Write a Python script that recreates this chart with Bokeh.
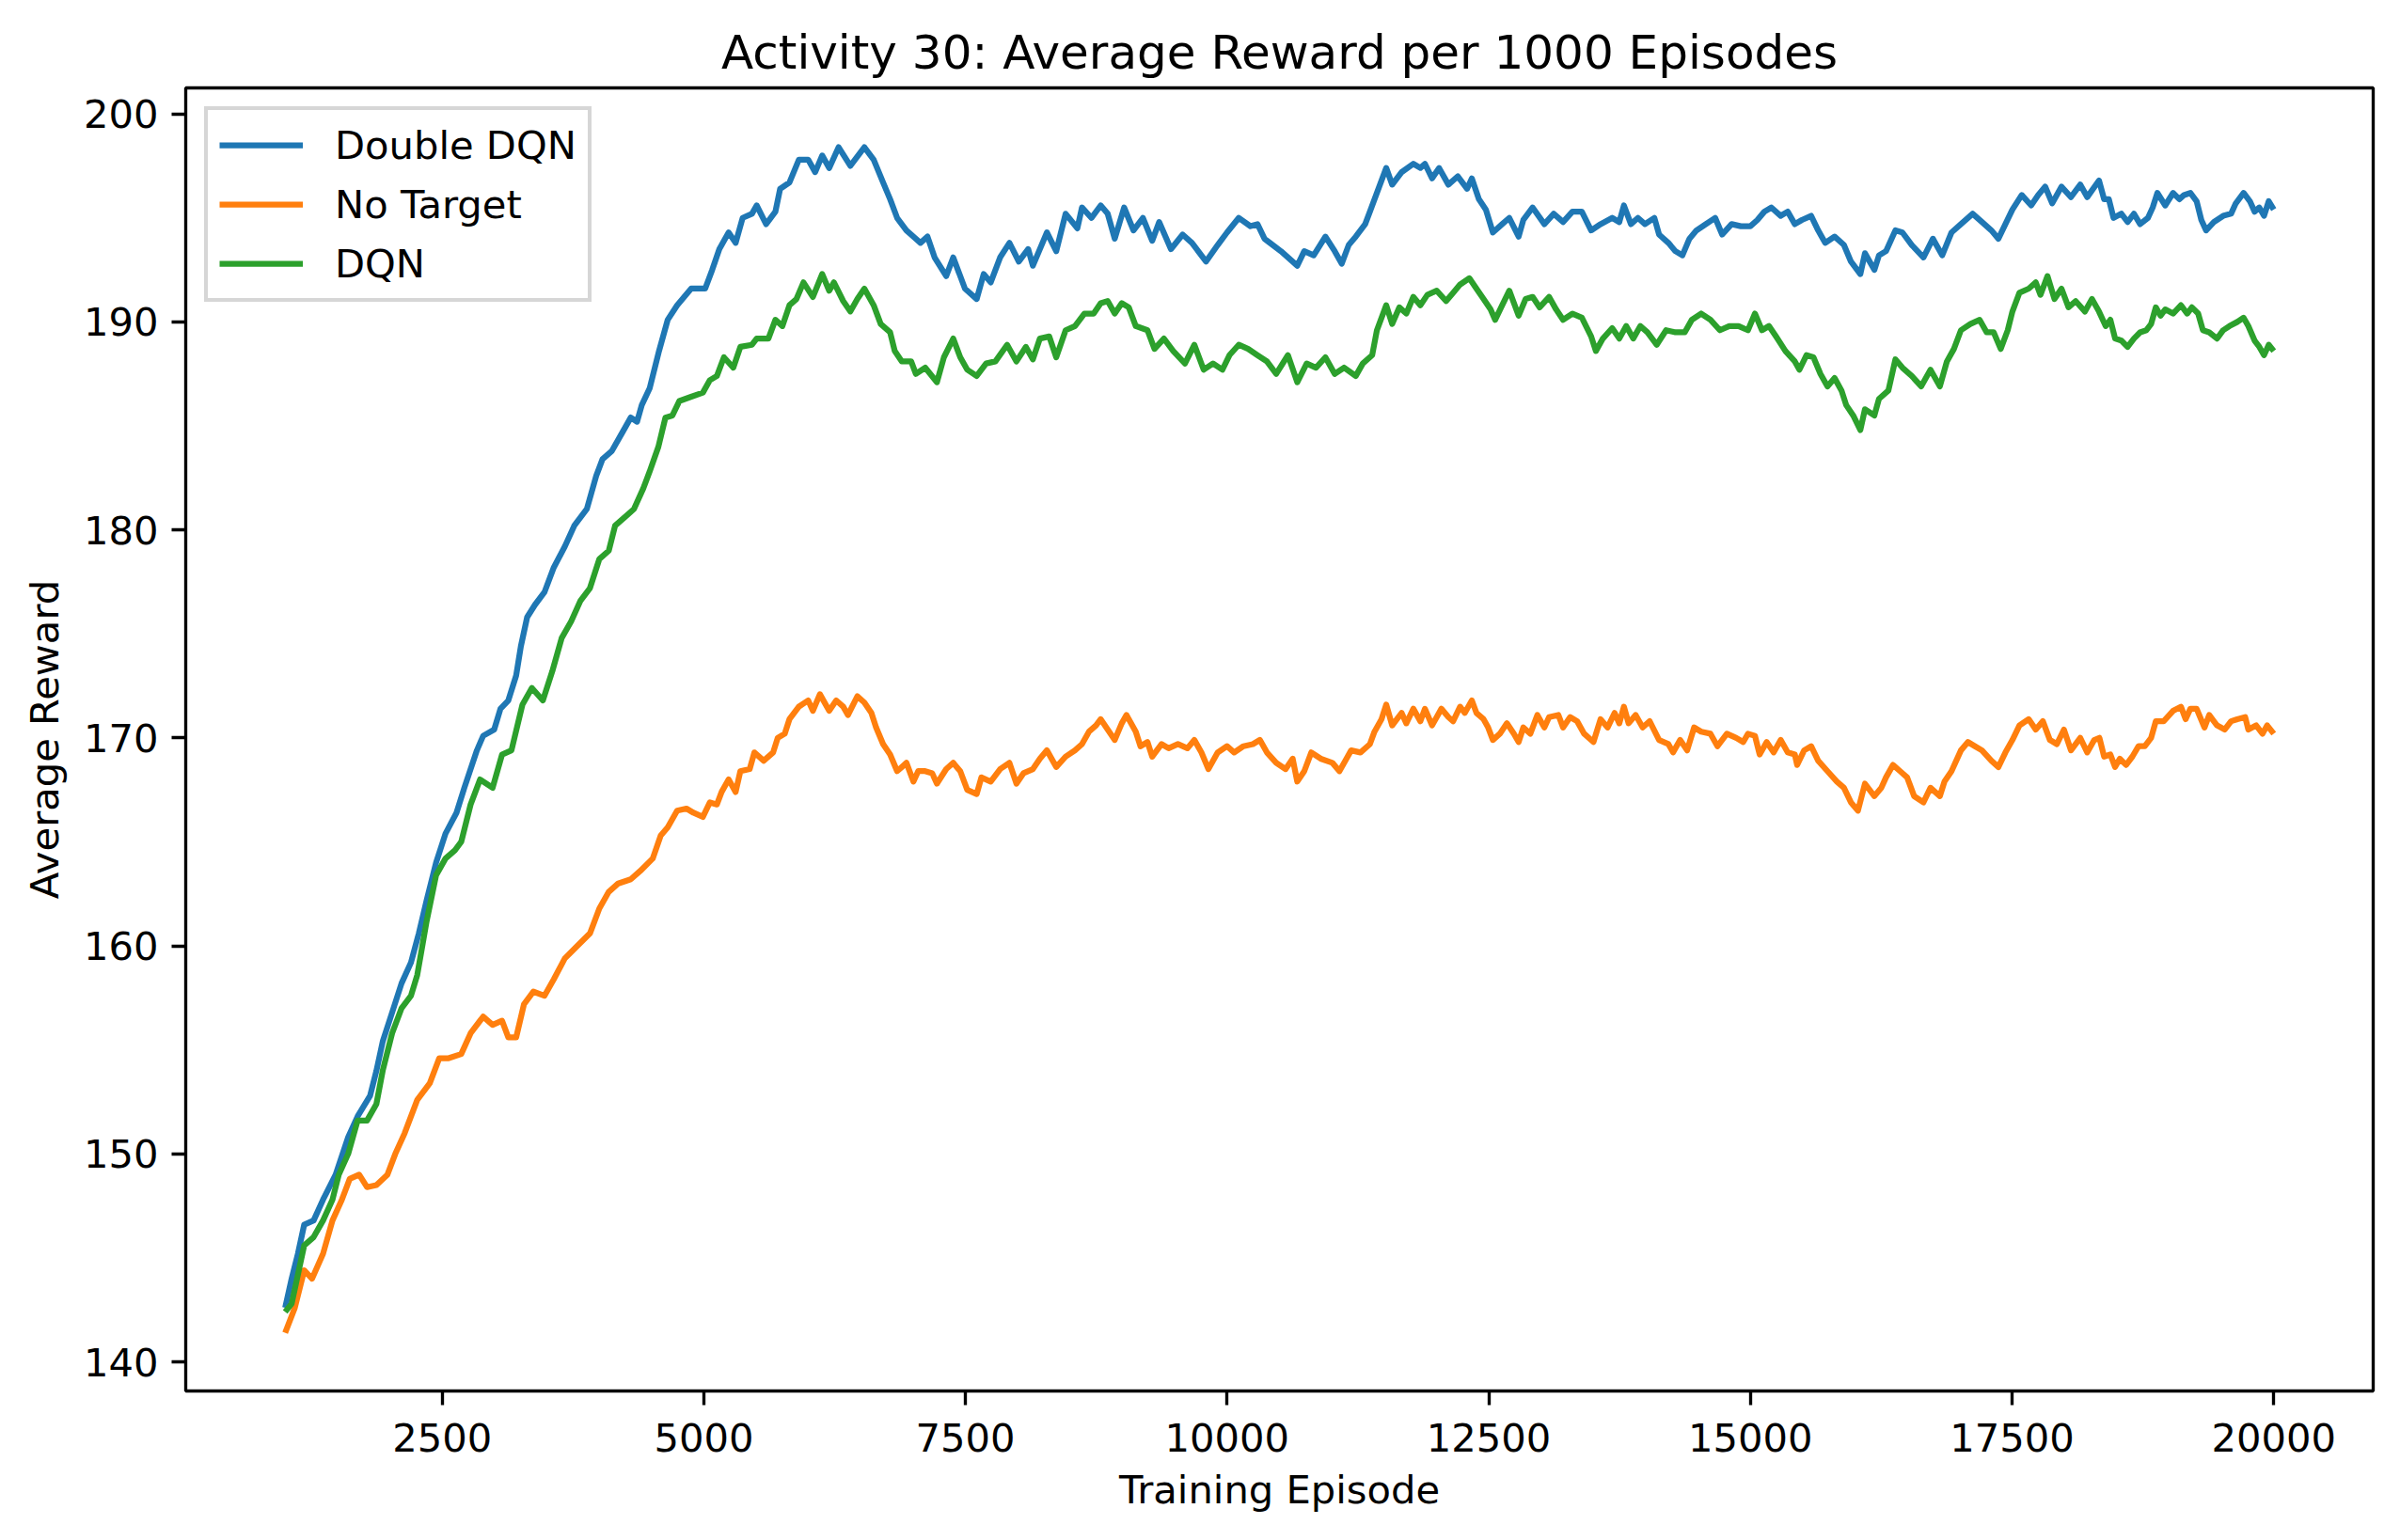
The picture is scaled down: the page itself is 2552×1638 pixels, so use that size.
from bokeh.plotting import figure
from bokeh.models import FixedTicker, Range1d, Legend, LegendItem
from bokeh.embed import file_html
from bokeh.resources import INLINE

TITLE = "Activity 30: Average Reward per 1000 Episodes"
X_LABEL = "Training Episode"
Y_LABEL = "Average Reward"
X_TICKS = [2500, 5000, 7500, 10000, 12500, 15000, 17500, 20000]
Y_TICKS = [140, 150, 160, 170, 180, 190, 200]

# Double DQN
dd_ep = [1000, 1062, 1122, 1182, 1272, 1362, 1482, 1602, 1692, 1812, 1872, 1932, 2022, 2112, 2202, 2277,
         2352, 2442, 2532, 2637, 2712, 2832, 2892, 2997, 3057, 3132, 3207, 3252, 3312, 3387, 3477, 3567,
         3672, 3762, 3882, 3972, 4032, 4122, 4212, 4302, 4362, 4407, 4482, 4572, 4655, 4745, 4879, 5013,
         5080, 5148, 5237, 5304, 5371, 5460, 5505, 5595, 5684, 5729, 5818, 5908, 5997, 6064, 6131, 6198,
         6288, 6400, 6534, 6623, 6713, 6780, 6847, 6936, 7070, 7137, 7205, 7316, 7383, 7495, 7607, 7674,
         7741, 7831, 7920, 8010, 8099, 8144, 8278, 8367, 8457, 8569, 8613, 8703, 8792, 8859, 8926, 9016,
         9105, 9195, 9284, 9351, 9463, 9575, 9664, 9798, 9910, 9999, 10111, 10223, 10290, 10357, 10514,
         10670, 10737, 10827, 10939, 11028, 11095, 11162, 11229, 11319, 11364, 11431, 11520, 11577, 11667,
         11779, 11846, 11890, 11958, 12025, 12114, 12204, 12293, 12338, 12405, 12472, 12539, 12628, 12696,
         12785, 12830, 12919, 13031, 13120, 13210, 13299, 13389, 13478, 13568, 13679, 13747, 13791, 13858,
         13925, 13992, 14082, 14127, 14216, 14283, 14350, 14417, 14484, 14574, 14663, 14730, 14820, 14909,
         14999, 15066, 15133, 15200, 15289, 15356, 15424, 15491, 15580, 15647, 15714, 15804, 15893, 15960,
         16050, 16094, 16184, 16228, 16295, 16385, 16452, 16541, 16653, 16743, 16832, 16921, 17011, 17123,
         17212, 17302, 17369, 17436, 17503, 17592, 17682, 17749, 17816, 17883, 17972, 18062, 18151, 18218,
         18330, 18379, 18424, 18469, 18544, 18604, 18664, 18723, 18798, 18843, 18888, 18963, 19038, 19098,
         19143, 19203, 19263, 19308, 19353, 19428, 19517, 19592, 19637, 19712, 19772, 19817, 19862, 19907,
         19952, 20000]
dd_val = [142.6, 144.0, 145.2, 146.6, 146.8, 147.8, 149.0, 150.8, 151.8, 152.8, 154.0, 155.4, 156.8, 158.2,
          159.2, 160.6, 162.2, 164.0, 165.4, 166.4, 167.6, 169.4, 170.1, 170.4, 171.4, 171.8, 173.0, 174.4,
          175.8, 176.4, 177.0, 178.2, 179.2, 180.2, 181.0, 182.6, 183.4, 183.8, 184.6, 185.4, 185.2, 186.0,
          186.8, 188.6, 190.1, 190.8, 191.6, 191.6, 192.5, 193.5, 194.3, 193.8, 195.0, 195.2, 195.6, 194.7,
          195.3, 196.4, 196.7, 197.8, 197.8, 197.2, 198.0, 197.4, 198.4, 197.5, 198.4, 197.8, 196.7, 195.9,
          195.0, 194.4, 193.8, 194.1, 193.1, 192.2, 193.1, 191.6, 191.1, 192.3, 191.9, 193.1, 193.8, 192.9,
          193.5, 192.7, 194.3, 193.4, 195.2, 194.5, 195.5, 195.0, 195.6, 195.2, 194.0, 195.5, 194.4, 195.0,
          193.9, 194.8, 193.5, 194.2, 193.8, 192.9, 193.7, 194.3, 195.0, 194.6, 194.7, 194.0, 193.4, 192.7,
          193.4, 193.2, 194.1, 193.4, 192.8, 193.7, 194.1, 194.7, 195.3, 196.2, 197.4, 196.6, 197.2, 197.6,
          197.4, 197.6, 196.9, 197.4, 196.6, 197.0, 196.4, 196.9, 195.9, 195.4, 194.3, 194.7, 195.0, 194.1,
          194.9, 195.5, 194.7, 195.2, 194.8, 195.3, 195.3, 194.4, 194.7, 195.0, 194.8, 195.6, 194.7, 195.0,
          194.7, 195.0, 194.2, 193.8, 193.4, 193.2, 194.0, 194.4, 194.7, 195.0, 194.2, 194.7, 194.6, 194.6,
          194.9, 195.3, 195.5, 195.1, 195.3, 194.7, 194.9, 195.1, 194.4, 193.8, 194.1, 193.7, 192.9, 192.3,
          193.3, 192.5, 193.2, 193.4, 194.4, 194.3, 193.7, 193.1, 194.0, 193.2, 194.3, 194.7, 195.2, 194.8,
          194.4, 194.0, 194.7, 195.4, 196.1, 195.6, 196.1, 196.5, 195.7, 196.5, 196.0, 196.6, 196.0, 196.8,
          195.9, 195.9, 195.0, 195.2, 194.8, 195.2, 194.7, 195.0, 195.5, 196.2, 195.6, 196.2, 195.9, 196.1,
          196.2, 195.8, 194.9, 194.4, 194.8, 195.1, 195.2, 195.7, 196.2, 195.8, 195.3, 195.5, 195.1, 195.8,
          195.4]

# No Target
nt_ep = [1000, 1092, 1182, 1257, 1362, 1452, 1542, 1617, 1707, 1782, 1872, 1977, 2052, 2142, 2262, 2382,
         2472, 2562, 2682, 2772, 2892, 2982, 3072, 3132, 3207, 3282, 3372, 3477, 3567, 3672, 3792, 3912,
         4002, 4092, 4182, 4302, 4392, 4512, 4588, 4655, 4745, 4834, 4901, 4991, 5058, 5125, 5170, 5237,
         5304, 5349, 5438, 5483, 5572, 5662, 5706, 5773, 5818, 5908, 5997, 6042, 6109, 6198, 6265, 6332,
         6377, 6467, 6534, 6601, 6646, 6713, 6780, 6847, 6892, 6936, 7003, 7048, 7115, 7182, 7227, 7316,
         7383, 7450, 7517, 7607, 7652, 7741, 7831, 7920, 7987, 8054, 8144, 8211, 8278, 8367, 8457, 8546,
         8613, 8680, 8747, 8792, 8859, 8926, 8993, 9038, 9127, 9172, 9239, 9284, 9374, 9441, 9530, 9620,
         9687, 9754, 9821, 9910, 9999, 10067, 10156, 10246, 10313, 10380, 10469, 10559, 10626, 10670, 10737,
         10804, 10894, 11006, 11073, 11140, 11185, 11274, 11364, 11408, 11475, 11520, 11577, 11667, 11712,
         11779, 11846, 11890, 11958, 12047, 12114, 12159, 12226, 12271, 12338, 12382, 12450, 12494, 12539,
         12606, 12673, 12740, 12785, 12830, 12897, 12964, 13031, 13076, 13165, 13210, 13277, 13344, 13411,
         13500, 13568, 13635, 13702, 13747, 13791, 13836, 13903, 13970, 14037, 14127, 14216, 14261, 14328,
         14395, 14462, 14529, 14618, 14685, 14775, 14864, 14931, 14976, 15043, 15088, 15155, 15222, 15289,
         15356, 15424, 15446, 15513, 15580, 15647, 15736, 15826, 15893, 15960, 16027, 16094, 16184, 16250,
         16295, 16362, 16430, 16497, 16564, 16653, 16720, 16810, 16854, 16921, 17011, 17078, 17145, 17212,
         17302, 17369, 17436, 17503, 17570, 17659, 17726, 17794, 17861, 17928, 17995, 18062, 18151, 18218,
         18285, 18334, 18379, 18439, 18484, 18529, 18589, 18649, 18708, 18768, 18828, 18873, 18948, 19038,
         19113, 19158, 19203, 19263, 19338, 19383, 19458, 19532, 19592, 19652, 19727, 19757, 19832, 19892,
         19937, 20000]
nt_val = [141.4, 142.6, 144.4, 144.0, 145.2, 146.8, 147.8, 148.8, 149.0, 148.4, 148.5, 149.0, 150.0, 151.0,
          152.6, 153.4, 154.6, 154.6, 154.8, 155.8, 156.6, 156.2, 156.4, 155.6, 155.6, 157.2, 157.8, 157.6,
          158.4, 159.4, 160.0, 160.6, 161.8, 162.6, 163.0, 163.2, 163.6, 164.2, 165.3, 165.7, 166.5, 166.6,
          166.4, 166.2, 166.9, 166.8, 167.4, 168.0, 167.4, 168.4, 168.5, 169.3, 168.9, 169.3, 170.0, 170.2,
          170.9, 171.5, 171.8, 171.3, 172.1, 171.3, 171.8, 171.5, 171.1, 172.0, 171.7, 171.2, 170.5, 169.7,
          169.2, 168.4, 168.6, 168.8, 167.9, 168.4, 168.4, 168.3, 167.8, 168.5, 168.8, 168.4, 167.5, 167.3,
          168.1, 167.9, 168.5, 168.8, 167.8, 168.3, 168.5, 169.0, 169.4, 168.6, 169.1, 169.4, 169.7, 170.3,
          170.6, 170.9, 170.4, 169.9, 170.7, 171.1, 170.3, 169.6, 169.8, 169.1, 169.7, 169.5, 169.7, 169.5,
          169.9, 169.3, 168.5, 169.3, 169.6, 169.3, 169.6, 169.7, 169.9, 169.3, 168.8, 168.5, 169.0, 167.9,
          168.4, 169.3, 169.0, 168.8, 168.4, 169.0, 169.4, 169.3, 169.7, 170.3, 170.9, 171.6, 170.6, 171.2,
          170.7, 171.4, 170.8, 171.4, 170.6, 171.4, 171.0, 170.8, 171.5, 171.2, 171.8, 171.2, 170.9, 170.5,
          169.9, 170.2, 170.7, 170.2, 169.8, 170.5, 170.2, 171.1, 170.5, 171.0, 171.1, 170.5, 171.0, 170.8,
          170.2, 169.8, 170.9, 170.5, 171.2, 170.7, 171.5, 170.7, 171.1, 170.5, 170.8, 169.9, 169.7, 169.3,
          169.9, 169.4, 170.5, 170.3, 170.2, 169.6, 170.2, 170.0, 169.8, 170.2, 170.1, 169.2, 169.8, 169.3,
          169.9, 169.3, 169.2, 168.7, 169.4, 169.6, 168.9, 168.4, 167.9, 167.6, 166.9, 166.5, 167.8, 167.2,
          167.6, 168.1, 168.7, 168.4, 168.1, 167.2, 166.9, 167.6, 167.2, 167.9, 168.4, 169.4, 169.8, 169.6,
          169.4, 168.9, 168.6, 169.3, 169.9, 170.6, 170.9, 170.4, 170.8, 169.9, 169.7, 170.4, 169.4, 170.0,
          169.3, 169.9, 170.0, 169.1, 169.2, 168.6, 169.0, 168.7, 169.1, 169.6, 169.6, 170.0, 170.8, 170.8,
          171.3, 171.5, 170.9, 171.4, 171.4, 170.5, 171.1, 170.6, 170.4, 170.8, 170.9, 171.0, 170.4, 170.6,
          170.2, 170.6, 170.2]

# DQN
dq_ep = [1000, 1062, 1122, 1182, 1272, 1362, 1452, 1512, 1602, 1692, 1782, 1872, 1932, 2022, 2112, 2202,
         2262, 2352, 2442, 2532, 2622, 2682, 2772, 2862, 2982, 3072, 3162, 3267, 3357, 3462, 3552, 3642,
         3732, 3822, 3912, 4002, 4092, 4152, 4242, 4332, 4422, 4482, 4566, 4633, 4700, 4767, 4879, 4991,
         5058, 5125, 5192, 5282, 5349, 5460, 5505, 5617, 5684, 5751, 5818, 5885, 5952, 6042, 6131, 6198,
         6243, 6332, 6400, 6467, 6534, 6623, 6690, 6780, 6824, 6892, 6981, 7026, 7115, 7227, 7294, 7383,
         7450, 7517, 7607, 7697, 7786, 7898, 7987, 8077, 8144, 8211, 8300, 8367, 8457, 8546, 8636, 8725,
         8792, 8859, 8926, 8993, 9060, 9127, 9239, 9306, 9396, 9485, 9597, 9687, 9776, 9865, 9955, 10022,
         10111, 10201, 10290, 10380, 10469, 10581, 10670, 10760, 10849, 10939, 11028, 11117, 11229, 11296,
         11386, 11431, 11520, 11577, 11645, 11712, 11779, 11846, 11913, 12002, 12092, 12159, 12226, 12315,
         12382, 12450, 12517, 12561, 12628, 12696, 12785, 12852, 12919, 12986, 13076, 13143, 13210, 13299,
         13389, 13478, 13523, 13590, 13679, 13747, 13813, 13880, 13948, 14015, 14104, 14194, 14283, 14372,
         14440, 14529, 14618, 14708, 14797, 14887, 14976, 15043, 15110, 15177, 15244, 15334, 15424, 15468,
         15535, 15602, 15669, 15736, 15804, 15870, 15915, 15982, 16050, 16094, 16184, 16228, 16318, 16385,
         16452, 16541, 16631, 16720, 16810, 16877, 16944, 17011, 17101, 17190, 17257, 17324, 17391, 17458,
         17503, 17570, 17659, 17726, 17771, 17838, 17905, 17972, 18039, 18107, 18196, 18263, 18330, 18394,
         18439, 18484, 18544, 18604, 18664, 18723, 18783, 18828, 18873, 18918, 18963, 19038, 19113, 19173,
         19218, 19278, 19323, 19383, 19458, 19517, 19577, 19652, 19712, 19757, 19817, 19862, 19907, 19952,
         20000]
dq_val = [142.4, 142.8, 144.2, 145.6, 146.0, 146.8, 147.8, 149.0, 150.0, 151.6, 151.6, 152.4, 154.0, 155.8,
          157.0, 157.6, 158.6, 161.2, 163.4, 164.2, 164.6, 165.0, 166.8, 168.0, 167.6, 169.2, 169.4, 171.6,
          172.4, 171.8, 173.2, 174.8, 175.6, 176.6, 177.2, 178.6, 179.0, 180.2, 180.6, 181.0, 182.0, 182.8,
          184.0, 185.4, 185.5, 186.2, 186.4, 186.6, 187.2, 187.4, 188.3, 187.8, 188.8, 188.9, 189.2, 189.2,
          190.1, 189.8, 190.8, 191.1, 191.9, 191.2, 192.3, 191.5, 191.9, 191.0, 190.5, 191.1, 191.6, 190.8,
          189.9, 189.5, 188.6, 188.1, 188.1, 187.5, 187.8, 187.1, 188.3, 189.2, 188.3, 187.7, 187.4, 188.0,
          188.1, 188.9, 188.1, 188.8, 188.2, 189.2, 189.3, 188.3, 189.6, 189.8, 190.4, 190.4, 190.9, 191.0,
          190.4, 190.9, 190.7, 189.8, 189.6, 188.7, 189.2, 188.6, 188.0, 188.9, 187.7, 188.0, 187.7, 188.4,
          188.9, 188.7, 188.4, 188.1, 187.5, 188.4, 187.1, 188.0, 187.8, 188.3, 187.5, 187.8, 187.4, 188.0,
          188.4, 189.6, 190.8, 189.9, 190.7, 190.4, 191.2, 190.8, 191.3, 191.5, 191.0, 191.4, 191.8, 192.1,
          191.6, 191.1, 190.6, 190.1, 190.8, 191.5, 190.3, 191.1, 191.2, 190.7, 191.2, 190.6, 190.1, 190.4,
          190.2, 189.3, 188.6, 189.2, 189.7, 189.2, 189.8, 189.2, 189.8, 189.5, 188.9, 189.6, 189.5, 189.5,
          190.1, 190.4, 190.1, 189.6, 189.8, 189.8, 189.6, 190.4, 189.6, 189.8, 189.3, 188.6, 188.1, 187.7,
          188.4, 188.3, 187.5, 186.9, 187.3, 186.7, 186.0, 185.5, 184.8, 185.8, 185.5, 186.3, 186.7, 188.2,
          187.8, 187.4, 186.9, 187.7, 186.9, 188.1, 188.7, 189.6, 189.9, 190.1, 189.5, 189.5, 188.7, 189.6,
          190.5, 191.4, 191.6, 191.9, 191.3, 192.2, 191.1, 191.6, 190.7, 191.0, 190.5, 191.1, 190.5, 189.8,
          190.1, 189.2, 189.1, 188.8, 189.2, 189.5, 189.6, 189.9, 190.7, 190.3, 190.6, 190.4, 190.8, 190.4,
          190.7, 190.4, 189.6, 189.5, 189.2, 189.6, 189.8, 190.0, 190.2, 189.8, 189.1, 188.8, 188.4, 188.9,
          188.6]

SERIES = [("Double DQN", dd_ep, dd_val, "#1f77b4"),
          ("No Target", nt_ep, nt_val, "#ff7f0e"),
          ("DQN", dq_ep, dq_val, "#2ca02c")]

FONT = "DejaVu Sans"
LW = 6.25      # 1.5pt at 300 dpi
SPINE = 3.33   # 0.8pt at 300 dpi

p = figure(width=2544, height=1630, output_backend="svg", toolbar_location=None,
           x_range=Range1d(50, 20950), y_range=Range1d(138.6, 201.25),
           min_border_left=197, min_border_right=21, min_border_top=93, min_border_bottom=151,
           title=TITLE)

p.title.text_font = FONT
p.title.text_font_size = "50px"
p.title.text_font_style = "normal"
p.title.text_color = "black"
p.title.align = "center"
p.title.standoff = 17

p.grid.visible = False
p.background_fill_color = "white"
p.border_fill_color = "white"
p.outline_line_color = "black"
p.outline_line_width = SPINE

for ax in (p.xaxis[0], p.yaxis[0]):
    ax.axis_line_color = None
    ax.major_tick_out = 15
    ax.major_tick_in = 0
    ax.major_tick_line_width = SPINE
    ax.major_tick_line_color = "black"
    ax.minor_tick_line_color = None
    ax.major_label_text_font = FONT
    ax.major_label_text_font_size = "41.67px"
    ax.major_label_text_color = "black"
    ax.major_label_standoff = 14
    ax.axis_label_text_font = FONT
    ax.axis_label_text_font_size = "41.67px"
    ax.axis_label_text_font_style = "normal"
    ax.axis_label_text_color = "black"
    ax.axis_label_standoff = 16

p.xaxis[0].major_label_standoff = 19
p.xaxis[0].axis_label_standoff = 13
p.yaxis[0].axis_label_standoff = 14

p.xaxis[0].ticker = FixedTicker(ticks=X_TICKS)
p.yaxis[0].ticker = FixedTicker(ticks=Y_TICKS)
p.xaxis[0].axis_label = X_LABEL
p.yaxis[0].axis_label = Y_LABEL

items = []
for name, ep, val, color in SERIES:
    r = p.line(ep, val, line_color=color, line_width=LW, line_join="round")
    items.append(LegendItem(label=name, renderers=[r]))

legend = Legend(items=items, location="top_left", margin=20, padding=12, spacing=13,
                glyph_width=89, glyph_height=50, label_height=50, label_standoff=34,
                label_text_font=FONT, label_text_font_size="41.67px", label_text_color="black",
                border_line_color="#cccccc", border_line_alpha=0.8, border_line_width=4,
                background_fill_color="white", background_fill_alpha=0.8)
p.add_layout(legend)

open("out.html", "w").write(file_html(p, INLINE))
